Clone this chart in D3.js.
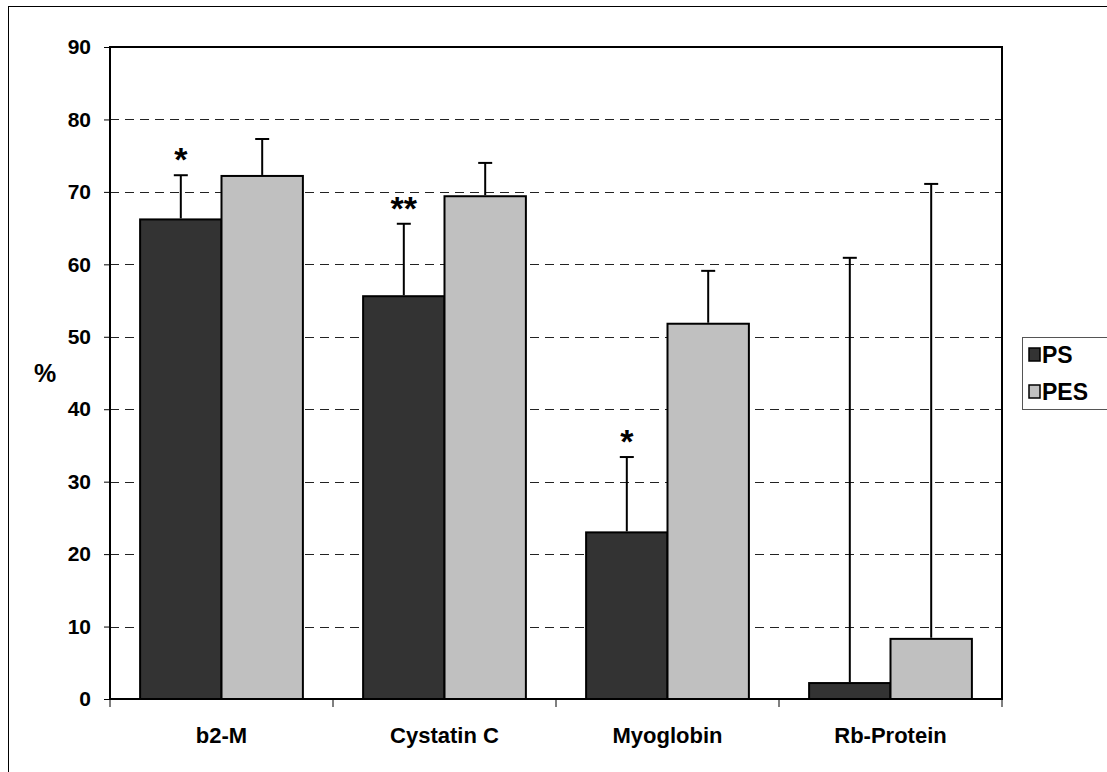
<!DOCTYPE html>
<html>
<head>
<meta charset="utf-8">
<title>PS vs PES</title>
<script src="https://d3js.org/d3.v7.min.js"></script>
<style>
  body { margin: 0; background: #fff; }
  text { font-family: "Liberation Sans", Arial, sans-serif; font-weight: bold; }
</style>
</head>
<body>
<script>
const categories = ["b2-M", "Cystatin C", "Myoglobin", "Rb-Protein"];
const seriesNames = ["PS", "PES"];
const psValues = [66.2, 55.6, 23.0, 2.2];
const pesValues = [72.2, 69.4, 51.8, 8.3];
const psErrors = [6.1, 10.0, 10.4, 58.7];
const pesErrors = [5.1, 4.6, 7.3, 62.8];
const psMarks = ["*", "**", "*", ""];
const yTicks = [0, 10, 20, 30, 40, 50, 60, 70, 80, 90];

const width = 1107, height = 772;
const colors = { PS: "#333333", PES: "#c0c0c0" };

const svg = d3.select("body").append("svg")
    .attr("width", width)
    .attr("height", height);

// outer chart frame (cut by the page at right and bottom)
svg.append("rect")
    .attr("x", 8.5).attr("y", 6.5)
    .attr("width", 1120).attr("height", 800)
    .attr("fill", "#fff").attr("stroke", "#000").attr("stroke-width", 1);

const plot = { left: 110, top: 47, right: 1002, bottom: 699 };

const y = d3.scaleLinear().domain([0, 90]).range([plot.bottom, plot.top]);
const x0 = d3.scaleBand().domain(categories).range([plot.left, plot.right]).paddingInner(0).paddingOuter(0);
const x1 = d3.scaleBand().domain(seriesNames).range([0, x0.bandwidth()]).paddingInner(0).paddingOuter(0.37);

const rows = categories.map((c, i) => ({
  cat: c,
  mark: psMarks[i],
  bars: [
    { key: "PS", value: psValues[i], err: psErrors[i] },
    { key: "PES", value: pesValues[i], err: pesErrors[i] }
  ]
}));

// gridlines
svg.append("g").selectAll("line")
  .data(yTicks.filter(t => t > 0 && t < 90))
  .join("line")
    .attr("x1", plot.left).attr("x2", plot.right)
    .attr("y1", d => Math.round(y(d)) + 0.5).attr("y2", d => Math.round(y(d)) + 0.5)
    .attr("stroke", "#222").attr("stroke-width", 1)
    .attr("stroke-dasharray", "9,6");

// y axis
const yAxis = svg.append("g")
    .attr("transform", `translate(${plot.left},0)`)
    .call(d3.axisLeft(y).tickValues(yTicks).tickSize(6).tickPadding(13));
yAxis.select(".domain").remove();
yAxis.selectAll("line").attr("stroke", "#000").attr("stroke-width", 1);
yAxis.selectAll("text").attr("font-size", 21).attr("fill", "#000")
    .attr("font-family", "'Liberation Sans', Arial, sans-serif").attr("font-weight", "bold");

// x axis: ticks between categories
const xAxis = svg.append("g")
    .attr("transform", `translate(0,${plot.bottom})`);
xAxis.selectAll("line")
  .data(categories.map(c => x0(c)).concat([plot.right]))
  .join("line")
    .attr("x1", d => d).attr("x2", d => d)
    .attr("y1", 0).attr("y2", 8)
    .attr("stroke", "#000").attr("stroke-width", 1);
xAxis.selectAll("text")
  .data(categories)
  .join("text")
    .attr("x", d => x0(d) + x0.bandwidth() / 2)
    .attr("y", 44)
    .attr("text-anchor", "middle")
    .attr("font-size", 22)
    .text(d => d);

// bars
const group = svg.append("g").selectAll("g")
  .data(rows)
  .join("g")
    .attr("transform", d => `translate(${x0(d.cat)},0)`);

group.selectAll("rect")
  .data(d => d.bars)
  .join("rect")
    .attr("x", d => x1(d.key))
    .attr("y", d => y(d.value))
    .attr("width", x1.bandwidth())
    .attr("height", d => y(0) - y(d.value))
    .attr("fill", d => colors[d.key])
    .attr("stroke", "#000").attr("stroke-width", 2);

// error bars (upper only)
const err = group.selectAll("g.err")
  .data(d => d.bars)
  .join("g").attr("class", "err");
err.append("line")
    .attr("x1", d => x1(d.key) + x1.bandwidth() / 2)
    .attr("x2", d => x1(d.key) + x1.bandwidth() / 2)
    .attr("y1", d => y(d.value) - 1)
    .attr("y2", d => y(d.value + d.err))
    .attr("stroke", "#000").attr("stroke-width", 2);
err.append("line")
    .attr("x1", d => x1(d.key) + x1.bandwidth() / 2 - 7)
    .attr("x2", d => x1(d.key) + x1.bandwidth() / 2 + 7)
    .attr("y1", d => y(d.value + d.err))
    .attr("y2", d => y(d.value + d.err))
    .attr("stroke", "#000").attr("stroke-width", 2);

// significance marks over PS
group.append("text")
    .attr("x", d => x1("PS") + x1.bandwidth() / 2)
    .attr("y", d => y(d.bars[0].value + d.bars[0].err) - 4)
    .attr("text-anchor", "middle")
    .attr("font-size", 34)
    .text(d => d.mark);

// plot frame
svg.append("rect")
    .attr("x", plot.left).attr("y", plot.top)
    .attr("width", plot.right - plot.left).attr("height", plot.bottom - plot.top)
    .attr("fill", "none").attr("stroke", "#000").attr("stroke-width", 2);

// y label
svg.append("text")
    .attr("x", 45).attr("y", 382)
    .attr("text-anchor", "middle")
    .attr("font-size", 25)
    .text("%");

// legend
const legend = svg.append("g").attr("transform", "translate(1022,337)");
legend.append("rect")
    .attr("x", 0.5).attr("y", 0.5).attr("width", 100).attr("height", 72)
    .attr("fill", "#fff").attr("stroke", "#555").attr("stroke-width", 1);
const item = legend.selectAll("g.item")
  .data(seriesNames)
  .join("g").attr("class", "item")
    .attr("transform", (d, i) => `translate(0,${11 + i * 37})`);
item.append("rect")
    .attr("x", 7).attr("y", 0).attr("width", 11).attr("height", 13)
    .attr("fill", d => colors[d]).attr("stroke", "#000").attr("stroke-width", 1.5);
item.append("text")
    .attr("x", 20).attr("y", 15)
    .attr("font-size", 23)
    .text(d => d);
</script>
</body>
</html>
